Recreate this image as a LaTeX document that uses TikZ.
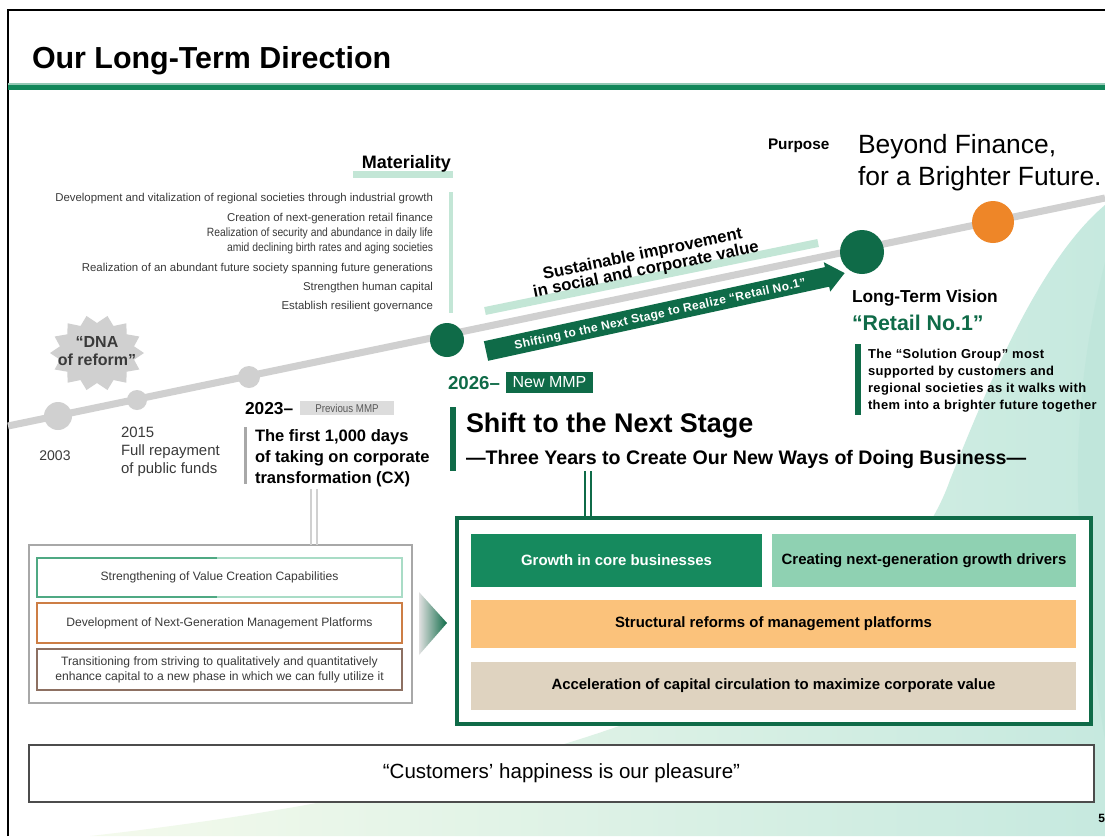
\documentclass[tikz,border=0pt]{standalone}
\usepackage{fontspec}
\setmainfont{Liberation Sans}
\newfontfamily\narrowsf[FakeStretch=0.86]{Liberation Sans}
\newfontfamily\widesf[LetterSpace=3]{Liberation Sans}
\usetikzlibrary{calc,fit}

\definecolor{dkgreen}{HTML}{0F6B48}
\definecolor{hdrgreen}{HTML}{12875A}
\definecolor{boxgreen}{HTML}{168A5E}
\definecolor{paleband}{HTML}{C3E6D6}
\definecolor{mintfill}{HTML}{8FD1B2}
\definecolor{orangefill}{HTML}{FBC27B}
\definecolor{beigefill}{HTML}{DFD3C0}
\definecolor{dotorange}{HTML}{EE8628}
\definecolor{tlgray}{HTML}{D0D0D0}
\definecolor{txtgray}{HTML}{3A3A3A}
\definecolor{tagfill}{HTML}{DCDCDC}
\definecolor{frameline}{HTML}{A8A8A8}
\definecolor{greenedge}{HTML}{4FA983}
\definecolor{greenedgelt}{HTML}{A9DCC6}
\definecolor{orangeedge}{HTML}{CD7E45}
\definecolor{brownedge}{HTML}{8D7062}
\definecolor{washlight}{HTML}{F4FAEC}
\definecolor{washteal}{HTML}{C6E9DF}
\definecolor{washdeep}{HTML}{B9E3D8}

\newcommand\fsz[2]{\fontsize{#1pt}{#2pt}\selectfont}

\begin{document}
\begin{tikzpicture}[x=0.75pt,y=-0.75pt,
  every node/.style={inner sep=0pt,outer sep=0pt},
  lbl/.style={anchor=base west},
  rlbl/.style={anchor=base east},
  clbl/.style={anchor=base},
  matitem/.style={anchor=base east,text=txtgray,font=\fsz{8.55}{10}},
  histtext/.style={anchor=base west,text=txtgray,font=\fsz{11.2}{13}},
  cxtext/.style={anchor=base west,font=\bfseries\fsz{12.4}{14}},
  visiontext/.style={anchor=base west,font=\widesf\bfseries\fsz{9.7}{11}},
  panel/.style={inner sep=0pt},
  pillartext/.style={font=\bfseries\fsz{11.2}{13}},
  legacy/.style={inner sep=0pt,line width=1.2pt},
  legacytext/.style={text=txtgray,font=\fsz{9.1}{11.25},align=center},
  tlline/.style={draw=tlgray,line width=5.3pt},
  graydot/.style={fill=tlgray},
  twinrule/.style={line width=1.5pt}
]
\useasboundingbox (0,0) rectangle (1105,836);
\fill[white] (0,0) rectangle (1105,836);

% soft background wash in the lower right
\shade[left color=washlight,right color=washteal]
  (90,836) .. controls (500,790) and (880,680) .. (950,480)
  .. controls (990,380) and (1040,260) .. (1105,205) -- (1105,836) -- cycle;
\fill[washdeep,opacity=0.45]
  (1105,262) .. controls (1080,360) and (1072,460) .. (1082,560)
  .. controls (1090,640) and (1098,700) .. (1105,740) -- cycle;

% page frame and header
\draw[line width=1.5pt] (8,836) -- (8,10) -- (1105,10);
\fill[hdrgreen!45] (8,83) rectangle (1105,84.5);
\fill[hdrgreen] (8,84.5) rectangle (1105,90);
\node[lbl,font=\bfseries\fsz{22.8}{25}] (title) at (32,68) {Our Long-Term Direction};

% materiality list
\fill[paleband] (353,171) rectangle (453,178);
\node[rlbl,font=\bfseries\fsz{13.5}{15}] (mattitle) at (451,168) {Materiality};
\draw[paleband,line width=2.5pt] (451,192) -- (451,313);
\node[matitem] (mat1) at (433,201) {Development and vitalization of regional societies through industrial growth};
\node[matitem] (mat2) at (433,221) {Creation of next-generation retail finance};
\node[matitem,font=\narrowsf\fsz{9}{10}] (mat3a) at (433,236) {Realization of security and abundance in daily life};
\node[matitem,font=\narrowsf\fsz{9}{10}] (mat3b) at (433,251) {amid declining birth rates and aging societies};
\node[matitem] (mat4) at (433,271) {Realization of an abundant future society spanning future generations};
\node[matitem] (mat5) at (433,290) {Strengthen human capital};
\node[matitem] (mat6) at (433,309) {Establish resilient governance};

% "DNA of reform" burst
\fill[tlgray] plot[variable=\k,samples at={0,...,27}]
  ({97+ifthenelse(mod(\k,2)==0,47,38)*cos(\k*360/28)},
   {353+ifthenelse(mod(\k,2)==0,38,30)*sin(\k*360/28)}) -- cycle;
\node[clbl,text=txtgray,font=\bfseries\fsz{12}{14}] (dna1) at (97,347) {“DNA};
\node[clbl,text=txtgray,font=\bfseries\fsz{12}{14}] (dna2) at (97,365) {of reform”};

% timeline
\draw[tlline] (8,426) -- (1105,198);
\fill[graydot] (58,416) circle (14);
\fill[graydot] (137,400) circle (10);
\fill[graydot] (249,377) circle (11);
\fill[dkgreen] (447,340) circle (17);
\fill[dkgreen] (862,252) circle (22);
\fill[dotorange] (993,222) circle (21);

% value band and its caption
\begin{scope}[shift={(485,311)},rotate=11.54]
  \fill[paleband] (0,-4) rectangle (340,4);
\end{scope}
\begin{scope}[shift={(644,261)},rotate=11.54,transform shape]
  \node[clbl,font=\bfseries\fsz{12.5}{14}] (sust1) at (0,-2) {Sustainable improvement};
  \node[clbl,font=\bfseries\fsz{12.5}{14}] (sust2) at (0,14) {in social and corporate value};
\end{scope}

% next-stage arrow
\begin{scope}[shift={(486,351)},rotate=12.26,transform shape]
  \fill[dkgreen] (0,-10) -- (349,-10) -- (349,-15) -- (367,0) -- (349,15) -- (349,10) -- (0,10) -- cycle;
  \node[text=white,font=\widesf\bfseries\fsz{9}{10}] (shiftlbl) at (178,1.5) {Shifting to the Next Stage to Realize “Retail No.1”};
\end{scope}

% early history
\node[clbl,text=txtgray,font=\fsz{10.5}{12}] (y2003) at (55,460) {2003};
\node[histtext] (y2015) at (121,437) {2015};
\node[histtext] (repay1) at (121,455) {Full repayment};
\node[histtext] (repay2) at (121,473) {of public funds};

% previous plan
\node[lbl,font=\bfseries\fsz{13}{15}] (y2023) at (245,414) {2023–};
\node[panel,fill=tagfill,fit={(300,401)(394,415)}] (prevtag) {};
\node[text=black!65,font=\narrowsf\fsz{8.5}{10}] (prevtagtext) at (prevtag.center) {Previous MMP};
\fill[frameline] (244,427) rectangle (247,484);
\node[cxtext] (cx1) at (255,441) {The first 1,000 days};
\node[cxtext] (cx2) at (255,462) {of taking on corporate};
\node[cxtext] (cx3) at (255,483) {transformation (CX)};

% previous plan themes
\node[draw=frameline,line width=1.5pt,fill=white,fit={(29,545)(412,703)}] (leftbox) {};
\draw[tlgray,twinrule] (311,0 |- cx3.south) ++(0,3) -- (311,0 |- leftbox.north);
\draw[tlgray,twinrule] (317,0 |- cx3.south) ++(0,3) -- (317,0 |- leftbox.north);
\node[legacy,draw=greenedgelt,fit={(37,558)(402,597)}] (vcc) {};
\draw[greenedge,line width=1.2pt] (217,558) -- (37,558) -- (37,597) -- (217,597);
\node[legacytext] (vcctext) at (vcc.center) {Strengthening of Value Creation Capabilities};
\node[legacy,draw=orangeedge,fit={(37,603)(402,643)}] (nextgen) {};
\node[legacytext] (nextgentext) at (nextgen.center) {Development of Next-Generation Management Platforms};
\node[legacy,draw=brownedge,fit={(37,649)(402,690)}] (capital) {};
\node[legacytext] (capitaltext) at (capital.center) {Transitioning from striving to qualitatively and quantitatively\\enhance capital to a new phase in which we can fully utilize it};

% chevron between the two plans
\shade[left color=black!12,right color=dkgreen] (419,592) -- (447,623) -- (419,655) -- cycle;

% new plan heading
\node[lbl,text=dkgreen,font=\bfseries\fsz{14}{16}] (y2026) at (448,389) {2026–};
\node[panel,fill=dkgreen,fit={(506,372)(593,393)}] (newmmp) {};
\node[text=white,font=\fsz{12}{14}] (newmmptext) at (newmmp.center) {New MMP};
\fill[dkgreen] (450,407) rectangle (456,471);
\node[lbl,font=\bfseries\fsz{20.2}{22}] (shift) at (466,432) {Shift to the Next Stage};
\node[lbl,font=\bfseries\fsz{14.7}{17}] (three) at (466,464) {—Three Years to Create Our New Ways of Doing Business—};

% new plan pillars
\node[draw=dkgreen,line width=2.5pt,fill=white,fit={(457,518)(1091,724)}] (mmpbox) {};
\draw[dkgreen,twinrule] (585,0 |- three.south) ++(0,3) -- (585,0 |- mmpbox.north);
\draw[dkgreen,twinrule] (591,0 |- three.south) ++(0,3) -- (591,0 |- mmpbox.north);
\node[panel,fill=boxgreen,fit={(471,534)(762,587)}] (core) {};
\node[pillartext,text=white] (coretext) at (core.center) {Growth in core businesses};
\node[panel,fill=mintfill,fit={(772,534)(1076,587)}] (drivers) {};
\node[pillartext] (driverstext) at (drivers.center) {Creating next-generation growth drivers};
\node[panel,fill=orangefill,fit={(471,600)(1076,648)}] (reform) {};
\node[pillartext] (reformtext) at (reform.center) {Structural reforms of management platforms};
\node[panel,fill=beigefill,fit={(471,662)(1076,710)}] (circ) {};
\node[pillartext] (circtext) at (circ.center) {Acceleration of capital circulation to maximize corporate value};

% purpose and vision
\node[lbl,font=\bfseries\fsz{11.5}{13}] (purpose) at (768,149) {Purpose};
\node[lbl,font=\fsz{19.8}{22}] (beyond1) at (858,153) {Beyond Finance,};
\node[lbl,font=\fsz{19.8}{22}] (beyond2) at (858,185) {for a Brighter Future.};
\node[lbl,font=\bfseries\fsz{13}{15}] (ltv) at (852,302) {Long-Term Vision};
\node[lbl,text=dkgreen,font=\bfseries\fsz{16}{18}] (retail) at (852,330) {“Retail No.1”};
\fill[dkgreen] (855,344) rectangle (861,415);
\node[visiontext] (vis1) at (868,358) {The “Solution Group” most};
\node[visiontext] (vis2) at (868,375) {supported by customers and};
\node[visiontext] (vis3) at (868,392) {regional societies as it walks with};
\node[visiontext] (vis4) at (868,409) {them into a brighter future together};

% motto and page number
\node[draw=black!70,line width=1.5pt,fill=white,fit={(29,745)(1094,802)}] (motto) {};
\node[font=\fsz{15.4}{17}] (mottotext) at (motto.center) {“Customers’ happiness is our pleasure”};
\node[rlbl,font=\bfseries\fsz{9}{10}] (pgno) at (1105,822) {5};
\end{tikzpicture}
\end{document}
